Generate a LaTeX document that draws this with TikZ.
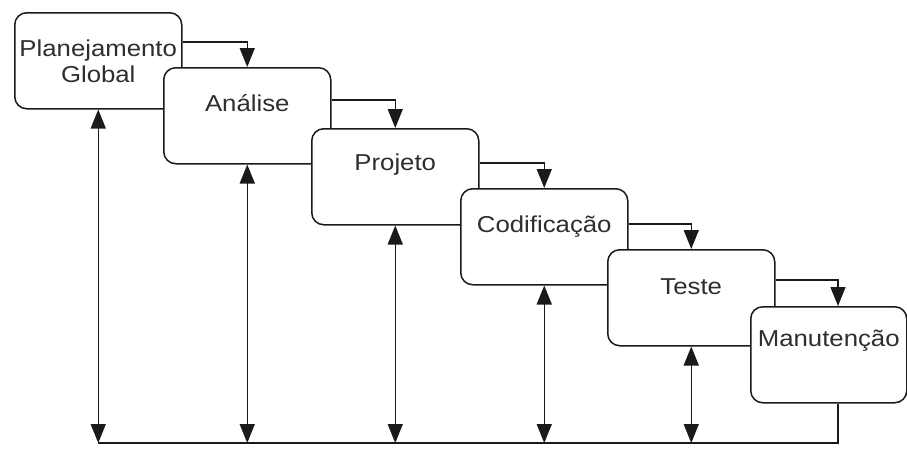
\documentclass[tikz,border=0pt]{standalone}
\usepackage{fontspec}
\setmainfont{Liberation Sans}[FakeStretch=1.12]
\usetikzlibrary{arrows.meta,calc}
\definecolor{ink}{HTML}{1A1A1A}
\definecolor{txt}{HTML}{2E2E2E}
\begin{document}
\begin{tikzpicture}[x=1pt,y=-1pt,
 phase/.style={draw=ink,line width=1.5pt,rounded corners=12pt,fill=white,minimum width=167pt,minimum height=96pt,anchor=north west,inner sep=0pt},
 lbl/.style={font=\fontsize{23}{26}\selectfont,text=txt,anchor=base,inner sep=0pt,align=center},
 flow/.style={draw=ink,line width=1.5pt,-{Triangle[length=19pt,width=15pt]}},
 both/.style={draw=ink,line width=1.5pt,{Triangle[length=19pt,width=15pt]}-{Triangle[length=19pt,width=15pt]}},
 plain/.style={draw=ink,line width=1.5pt}]
\useasboundingbox (0,0) rectangle (907,448);
% boxes
\node[phase] (b1) at (14,12) {};
\node[phase] (b2) at (163,67) {};
\node[phase] (b3) at (311,128) {};
\node[phase] (b4) at (460,188) {};
\node[phase] (b5) at (607,249) {};
\node[phase,minimum width=156pt] (b6) at (750,306) {};
% labels
\node[lbl,anchor=center] (t1) at ($(b1.north)+(0,49)$) {Planejamento\\Global};
\node[lbl] (t2) at ($(b2.north)+(0,44)$) {Análise};
\node[lbl] (t3) at ($(b3.north)+(0,42)$) {Projeto};
\node[lbl] (t4) at ($(b4.north)+(0,44)$) {Codificação};
\node[lbl] (t5) at ($(b5.north)+(0,45)$) {Teste};
\node[lbl] (t6) at ($(b6.north)+(0,40)$) {Manutenção};
% flow between phases
\coordinate (e6) at ($(b6.south west)+(88,0)$);
\draw[flow] ($(b1.north east)+(0,30)$) -| (b2.north);
\draw[flow] ($(b2.north east)+(0,33)$) -| (b3.north);
\draw[flow] ($(b3.north east)+(0,35)$) -| (b4.north);
\draw[flow] ($(b4.north east)+(0,36)$) -| (b5.north);
\draw[flow] ($(b5.north east)+(0,31)$) -| (e6 |- b6.north);
% bottom feedback line
\coordinate (base) at (97,443);
\draw[plain] (e6) |- (b1.south |- base);
\draw[both] (b1.south |- base) -- (b1.south);
\draw[both] (b2.south |- base) -- (b2.south);
\draw[both] (b3.south |- base) -- (b3.south);
\draw[both] (b4.south |- base) -- (b4.south);
\draw[both] (b5.south |- base) -- (b5.south);
\end{tikzpicture}
\end{document}
